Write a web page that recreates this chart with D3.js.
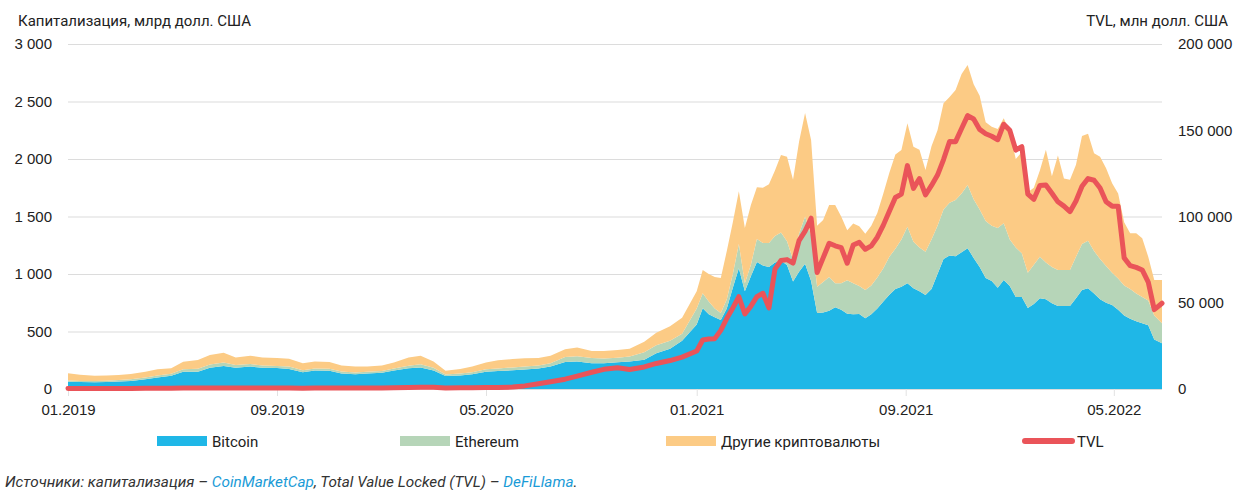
<!DOCTYPE html>
<html>
<head>
<meta charset="utf-8">
<script src="https://cdn.jsdelivr.net/npm/d3@7"></script>
<style>
  body { margin: 0; background: #fff; }
  svg { display: block; font-family: Roboto, "Open Sans", sans-serif; }
</style>
</head>
<body>
<svg id="chart" width="1236" height="490"></svg>
<script>
// data: semi-monthly 2019-2020, weekly from 2021
const dates = [
  "2019-01-01","2019-01-15","2019-02-01","2019-02-15","2019-03-01","2019-03-15","2019-04-01","2019-04-15",
  "2019-05-01","2019-05-15","2019-06-01","2019-06-15","2019-07-01","2019-07-15","2019-08-01","2019-08-15",
  "2019-09-01","2019-09-15","2019-10-01","2019-10-15","2019-11-01","2019-11-15","2019-12-01","2019-12-15",
  "2020-01-01","2020-01-15","2020-02-01","2020-02-15","2020-03-01","2020-03-15","2020-04-01","2020-04-15",
  "2020-05-01","2020-05-15","2020-06-01","2020-06-15","2020-07-01","2020-07-15","2020-08-01","2020-08-15",
  "2020-09-01","2020-09-15","2020-10-01","2020-10-15","2020-11-01","2020-11-15","2020-12-01","2020-12-15",
  "2021-01-01",
  "2021-01-08","2021-01-15","2021-01-22","2021-01-29","2021-02-05","2021-02-12","2021-02-19","2021-02-26",
  "2021-03-05","2021-03-12","2021-03-19","2021-03-26","2021-04-02","2021-04-09","2021-04-16","2021-04-23",
  "2021-04-30","2021-05-07","2021-05-14","2021-05-21","2021-05-28","2021-06-04","2021-06-11","2021-06-18",
  "2021-06-25","2021-07-02","2021-07-09","2021-07-16","2021-07-23","2021-07-30","2021-08-06","2021-08-13",
  "2021-08-20","2021-08-27","2021-09-03","2021-09-10","2021-09-17","2021-09-24","2021-10-01","2021-10-08",
  "2021-10-15","2021-10-22","2021-10-29","2021-11-05","2021-11-12","2021-11-19","2021-11-26","2021-12-03",
  "2021-12-10","2021-12-17","2021-12-24","2021-12-31",
  "2022-01-07","2022-01-14","2022-01-21","2022-01-28","2022-02-04","2022-02-11","2022-02-18","2022-02-25",
  "2022-03-04","2022-03-11","2022-03-18","2022-03-25","2022-04-01","2022-04-08","2022-04-15","2022-04-22",
  "2022-04-29","2022-05-06","2022-05-13","2022-05-20","2022-05-27","2022-06-03","2022-06-10","2022-06-17",
  "2022-06-26"
];

// market cap, bn USD
const bitcoin = [
  64,60,58,60,65,70,85,100,115,150,150,185,200,185,195,185,182,175,145,160,158,135,128,135,
  142,160,180,188,160,112,118,128,150,157,163,170,178,195,235,240,225,225,232,240,255,310,350,420,
  560,
  702,650,625,600,700,880,1050,850,980,1105,1075,1060,1100,1115,1078,935,1020,1090,940,660,665,680,710,690,
  655,650,652,615,650,700,760,820,870,890,919,876,850,817,870,1000,1130,1160,1155,1190,1223,1140,1060,965,
  940,880,948,895,
  800,800,705,740,790,780,745,722,722,722,790,860,876,830,780,750,730,690,640,610,590,572,555,430,397
];
const ethereum = [
  10,10,11,12,14,14,16,17,17,22,26,28,30,24,23,20,19,20,19,19,19,18,16,15,
  15,18,22,28,25,15,16,18,22,22,25,26,26,28,43,45,45,40,40,42,65,70,70,60,
  140,
  130,110,75,60,80,120,210,70,100,200,195,210,230,245,207,190,330,410,400,230,265,295,210,230,
  290,270,243,245,250,270,290,330,350,410,492,405,380,377,430,420,430,460,489,510,551,510,500,495,
  480,520,493,405,
  430,380,305,340,360,320,315,313,313,313,360,400,414,370,350,320,280,270,260,260,240,228,215,210,174
];
const others = [
  63,55,46,46,43,46,49,55,48,65,76,82,85,66,72,70,69,67,61,61,58,52,51,45,
  48,52,73,74,55,31,41,49,58,71,72,71,66,67,67,75,60,65,68,68,90,110,125,140,
  150,
  203,240,275,305,420,450,460,480,520,450,480,510,570,675,735,695,800,900,825,530,540,625,680,580,
  435,520,520,490,520,560,650,730,820,778,899,826,850,710,810,830,924,920,956,1040,1043,1000,990,860,
  861,860,913,930,
  770,880,700,670,750,980,790,995,795,785,800,940,930,850,890,850,780,740,550,484,524,510,380,308,377
];
// total value locked, mln USD
const tvl = [
  300,290,300,320,340,360,400,450,500,530,560,600,620,600,580,560,540,520,500,520,560,600,620,640,
  650,700,850,1000,950,600,700,750,850,900,1100,1800,3000,4200,5700,7500,9700,11400,12300,11300,12800,14800,16500,18500,
  22000,
  28400,29000,29200,34000,41000,47000,53500,43500,48000,53500,55500,47000,69500,74500,75000,73000,86000,91500,99000,67500,
  76000,84500,83000,82000,72900,83500,85000,81000,83000,88000,95000,103000,111000,113000,129500,116300,122000,112500,118000,124000,
  133000,143500,143400,151000,158500,156500,150500,148000,146500,144500,153500,150000,
  138500,140500,113000,110000,118000,118200,113500,108500,106000,102800,109000,117500,122000,121000,116500,108500,106000,
  106000,76000,71500,70500,69000,62000,46000,49700
];

const capTicks = [0, 500, 1000, 1500, 2000, 2500, 3000];
const tvlTicks = [0, 50000, 100000, 150000, 200000];
const xTicks = ["2019-01-01","2019-09-01","2020-05-01","2021-01-01","2021-09-01","2022-05-01"];

const keys = ["bitcoin", "ethereum", "others"];
const colors = { bitcoin: "#1fb7e7", ethereum: "#b6d5b8", others: "#fccb85", tvl: "#ea5459" };
const legendNames = ["Bitcoin", "Ethereum", "Другие криптовалюты", "TVL"];

const parse = d3.timeParse("%Y-%m-%d");
const data = dates.map((d, i) => ({
  date: parse(d), bitcoin: bitcoin[i], ethereum: ethereum[i], others: others[i], tvl: tvl[i]
}));

const W = 1236, H = 490;
const margin = { top: 44, right: 74, bottom: 101, left: 68 };

const svg = d3.select("#chart");

const x = d3.scaleTime(d3.extent(data, d => d.date), [margin.left, W - margin.right]);
const yL = d3.scaleLinear([0, 3000], [H - margin.bottom, margin.top]);
const yR = d3.scaleLinear([0, 200000], [H - margin.bottom, margin.top]);

const fmt = v => d3.format(",")(v).replace(/,/g, " ");

// grid + left axis
svg.append("g")
    .attr("transform", `translate(${margin.left},0)`)
    .call(d3.axisLeft(yL).tickValues(capTicks).tickFormat(fmt).tickSize(0).tickPadding(16))
    .call(g => g.select(".domain").remove())
    .call(g => g.selectAll(".tick text").attr("font-size", 15).attr("fill", "#222"))
    .call(g => g.selectAll(".tick line").clone()
        .attr("stroke", "#dcdcdc")
        .attr("stroke-width", 1.2)
        .attr("x2", W - margin.right - margin.left));

// right axis
svg.append("g")
    .attr("transform", `translate(${W - margin.right},0)`)
    .call(d3.axisRight(yR).tickValues(tvlTicks).tickFormat(fmt).tickSize(0).tickPadding(16))
    .call(g => g.select(".domain").remove())
    .call(g => g.selectAll(".tick text").attr("font-size", 15).attr("fill", "#222"));

// x axis
svg.append("g")
    .attr("transform", `translate(0,${H - margin.bottom})`)
    .call(d3.axisBottom(x).tickValues(xTicks.map(parse)).tickFormat(d3.timeFormat("%m.%Y")).tickSize(7).tickPadding(8))
    .call(g => g.select(".domain").remove())
    .call(g => g.selectAll(".tick line").attr("stroke", "#e2e2e2"))
    .call(g => g.selectAll(".tick text").attr("font-size", 15).attr("fill", "#222"));

// stacked areas
const series = d3.stack().keys(keys)(data);
const area = d3.area()
    .x(d => x(d.data.date))
    .y0(d => yL(d[0]))
    .y1(d => yL(d[1]));

svg.append("g")
  .selectAll("path")
  .data(series)
  .join("path")
    .attr("fill", d => colors[d.key])
    .attr("d", area);

// TVL line
const line = d3.line()
    .x(d => x(d.date))
    .y(d => yR(d.tvl));

svg.append("path")
    .datum(data)
    .attr("fill", "none")
    .attr("stroke", colors.tvl)
    .attr("stroke-width", 5)
    .attr("stroke-linejoin", "round")
    .attr("stroke-linecap", "round")
    .attr("d", line);

// axis titles
svg.append("text")
    .attr("x", 18).attr("y", 26)
    .attr("font-size", 15).attr("fill", "#222")
    .text("Капитализация, млрд долл. США");
svg.append("text")
    .attr("x", 1228).attr("y", 26)
    .attr("text-anchor", "end")
    .attr("font-size", 15).attr("fill", "#222")
    .text("TVL, млн долл. США");

// legend
const legendX = [157, 400, 666, 1022];
const legend = svg.append("g").attr("font-size", 15).attr("fill", "#222");
keys.forEach((k, i) => {
  legend.append("rect")
      .attr("x", legendX[i]).attr("y", 436)
      .attr("width", 50).attr("height", 10)
      .attr("fill", colors[k]);
  legend.append("text")
      .attr("x", legendX[i] + 55).attr("y", 447)
      .text(legendNames[i]);
});
legend.append("line")
    .attr("x1", legendX[3] + 3).attr("x2", legendX[3] + 50)
    .attr("y1", 441).attr("y2", 441)
    .attr("stroke", colors.tvl).attr("stroke-width", 6).attr("stroke-linecap", "round");
legend.append("text")
    .attr("x", legendX[3] + 55).attr("y", 447)
    .text(legendNames[3]);

// source
const src = svg.append("text")
    .attr("x", 5).attr("y", 487)
    .attr("font-size", 15.3).attr("font-style", "italic").attr("fill", "#333");
src.append("tspan").text("Источники: капитализация – ");
src.append("tspan").attr("fill", "#1a9bd7").text("CoinMarketCap");
src.append("tspan").text(", Total Value Locked (TVL) – ");
src.append("tspan").attr("fill", "#1a9bd7").text("DeFiLlama");
src.append("tspan").text(".");
</script>
</body>
</html>
